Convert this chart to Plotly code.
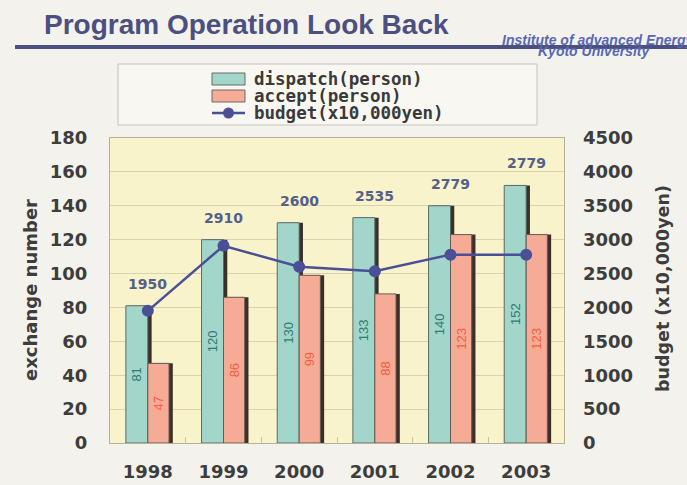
import plotly.graph_objects as go

# ---- data ----
years = ["1998", "1999", "2000", "2001", "2002", "2003"]
dispatch = [81, 120, 130, 133, 140, 152]
accept = [47, 86, 99, 88, 123, 123]
budget = [1950, 2910, 2600, 2535, 2779, 2779]
series_names = ["dispatch(person)", "accept(person)", "budget(x10,000yen)"]
left_ticks = list(range(0, 181, 20))
right_ticks = list(range(0, 4501, 500))

# ---- styles ----
W, H = 687, 485
PL, PR, PT, PB = 110, 564, 138, 443
C_DISP = "#a2d6ca"
C_ACC = "#f6ab97"
C_SHADOW = "#3a3027"
C_LINE = "#4a4f96"
C_TXT = "#3d3d3d"
BG = "#f4f2ec"
PLOT_BG = "#f8f3cb"
NUMFONT = "DejaVu Sans"


def px(x):
    return (x - PL) / (PR - PL)


def py(y):
    return (PB - y) / (PB - PT)


fig = go.Figure()

shadow_dx = 0.05
fig.add_trace(go.Bar(x=years, y=dispatch, offset=-0.29 + shadow_dx, width=0.29,
                     marker=dict(color=C_SHADOW, line=dict(width=0)),
                     showlegend=False, hoverinfo="skip"))
fig.add_trace(go.Bar(x=years, y=dispatch, offset=-0.29, width=0.29, name=series_names[0],
                     marker=dict(color=C_DISP, line=dict(color="#5a6a66", width=1)),
                     text=[str(v) for v in dispatch], textposition="inside",
                     insidetextanchor="middle", textangle=-90, constraintext="none",
                     textfont=dict(family="Liberation Sans", size=13, color="#2f7a72"),
                     showlegend=False))
fig.add_trace(go.Bar(x=years, y=accept, offset=0.0 + shadow_dx, width=0.28,
                     marker=dict(color=C_SHADOW, line=dict(width=0)),
                     showlegend=False, hoverinfo="skip"))
fig.add_trace(go.Bar(x=years, y=accept, offset=0.0, width=0.28, name=series_names[1],
                     marker=dict(color=C_ACC, line=dict(color="#6a5a55", width=1)),
                     text=[str(v) for v in accept], textposition="inside",
                     insidetextanchor="middle", textangle=-90, constraintext="none",
                     textfont=dict(family="Liberation Sans", size=13, color="#f0603e"),
                     showlegend=False))
fig.add_trace(go.Scatter(x=years, y=budget, yaxis="y2", mode="lines+markers",
                         name=series_names[2],
                         line=dict(color=C_LINE, width=2.5),
                         marker=dict(color=C_LINE, size=12),
                         showlegend=False))

annotations = []
# budget value labels above the dispatch bars (category index positions)
for i, (d, b) in enumerate(zip(dispatch, budget)):
    annotations.append(dict(x=i, y=d, xref="x", yref="y", text=f"{b}",
                            showarrow=False, yshift=22,
                            font=dict(family=NUMFONT, size=14, color="#55608a",
                                      weight="bold")))

annotations.append(dict(x=px(42), y=py(24), xref="paper", yref="paper",
                        xanchor="left", yanchor="middle",
                        text="Program Operation Look Back", showarrow=False,
                        font=dict(family="Liberation Sans", size=28, color="#4b5080",
                                  weight="bold")))
annotations.append(dict(x=px(500), y=py(40), xref="paper", yref="paper",
                        xanchor="left", yanchor="middle",
                        text="Institute of advanced Energy", showarrow=False,
                        font=dict(family="Liberation Sans", size=14, color="#5868b4",
                                  weight="bold", style="italic")))
annotations.append(dict(x=px(652), y=py(51), xref="paper", yref="paper",
                        xanchor="right", yanchor="middle",
                        text="Kyoto University", showarrow=False,
                        font=dict(family="Liberation Sans", size=14, color="#5868b4",
                                  weight="bold", style="italic")))
annotations.append(dict(x=px(30), y=py(290), xref="paper", yref="paper",
                        text="exchange number", textangle=-90, showarrow=False,
                        xanchor="center", yanchor="middle",
                        font=dict(family=NUMFONT, size=18, color=C_TXT, weight="bold")))
annotations.append(dict(x=px(663), y=py(289), xref="paper", yref="paper",
                        text="budget (x10,000yen)", textangle=-90, showarrow=False,
                        xanchor="center", yanchor="middle",
                        font=dict(family=NUMFONT, size=17.5, color=C_TXT, weight="bold")))

shapes = []
shapes.append(dict(type="line", xref="paper", yref="paper",
                   x0=px(15), x1=px(690), y0=py(47), y1=py(47),
                   line=dict(color="#4b5080", width=4), layer="below"))
shapes.append(dict(type="rect", xref="paper", yref="paper",
                   x0=px(118), x1=px(537), y0=py(64), y1=py(125),
                   fillcolor="#f8f7f2", line=dict(color="#c4c2bb", width=1)))
rows = [79, 96, 113]
for i, col in enumerate([C_DISP, C_ACC]):
    shapes.append(dict(type="rect", xref="paper", yref="paper",
                       x0=px(212), x1=px(245), y0=py(rows[i] - 6), y1=py(rows[i] + 6),
                       fillcolor=col, line=dict(color="#6b6b66", width=1)))
shapes.append(dict(type="line", xref="paper", yref="paper",
                   x0=px(212), x1=px(245), y0=py(rows[2]), y1=py(rows[2]),
                   line=dict(color=C_LINE, width=2.5)))
shapes.append(dict(type="circle", xref="paper", yref="paper",
                   x0=px(223), x1=px(234), y0=py(rows[2] - 5.5), y1=py(rows[2] + 5.5),
                   fillcolor=C_LINE, line=dict(color=C_LINE, width=0)))
for i, name in enumerate(series_names):
    annotations.append(dict(x=px(252), y=py(rows[i]), xref="paper", yref="paper",
                            xanchor="left", yanchor="middle", text=name,
                            showarrow=False,
                            font=dict(family="DejaVu Sans Mono", size=17.5,
                                      color="#3a3a3a", weight="bold")))

fig.update_layout(
    width=W, height=H,
    margin=dict(l=PL, r=W - PR, t=PT, b=H - PB, pad=0, autoexpand=False),
    paper_bgcolor=BG, plot_bgcolor=PLOT_BG,
    barmode="overlay", showlegend=False,
    xaxis=dict(type="category", range=[-0.5, 5.5], tickson="boundaries",
               ticks="inside", ticklen=6, tickcolor="#c8c3a8", automargin=False,
               showline=True, mirror=True, linecolor="#b5b09a", linewidth=1,
               showgrid=False, ticklabelstandoff=12,
               tickfont=dict(family=NUMFONT, size=18, color=C_TXT, weight="bold")),
    yaxis=dict(range=[0, 180], tickvals=left_ticks, showgrid=True, automargin=False,
               gridcolor="#d8d2b0", gridwidth=1, zeroline=False,
               showline=True, mirror=True, linecolor="#b5b09a", linewidth=1,
               ticks="", ticklabelstandoff=18,
               tickfont=dict(family=NUMFONT, size=18, color=C_TXT, weight="bold")),
    yaxis2=dict(range=[0, 4500], tickvals=right_ticks, overlaying="y", side="right",
                showgrid=False, zeroline=False, ticks="", ticklabelstandoff=18,
                automargin=False,
                tickfont=dict(family=NUMFONT, size=18, color=C_TXT, weight="bold")),
    annotations=annotations, shapes=shapes,
)

fig.write_html("out.html")
